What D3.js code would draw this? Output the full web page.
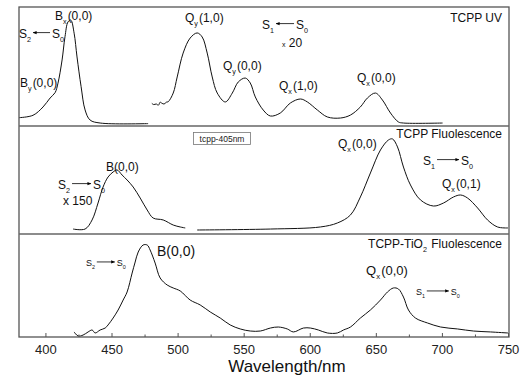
<!DOCTYPE html>
<html>
<head>
<meta charset="utf-8">
<script src="https://cdn.jsdelivr.net/npm/d3@7"></script>
<style>
  body { margin: 0; background: #fff; }
  svg { font-family: "Liberation Sans", Arial, sans-serif; }
</style>
</head>
<body>
<div id="chart"></div>
<script>
const WIDTH = 530;
const HEIGHT = 381;
const PLOT = { LEFT: 19, RIGHT: 508, TOP: 7, BOTTOM: 337 };

// panel edges (px) – top, divider 1, divider 2, bottom
const panelEdges = [7, 126, 234, 337];

const xTicks = [400, 450, 500, 550, 600, 650, 700, 750];
const xMinorTicks = [425, 475, 525, 575, 625, 675, 725];

// [wavelength nm, normalised intensity]
const uvSoret = [[380,0.07],[390.6,0.09],[398.2,0.16],[403.5,0.235],[407.3,0.28],[409.5,0.36],[412.6,0.555],
  [414.8,0.75],[417.1,0.875],[419.2,0.89],[421.7,0.78],[423.9,0.58],[427,0.33],[430,0.135],[433.8,0.05],
  [441.4,0.025],[477.7,0.02]];
const uvQ = [[480.5,0.19],[482,0.18],[483.8,0.185],[485.5,0.175],[486.8,0.2],[488.3,0.19],[489.8,0.185],
  [491.5,0.2],[492.9,0.204],[496.7,0.277],[499.7,0.412],[504.2,0.613],[509.5,0.739],[514.8,0.782],
  [518.6,0.748],[522.4,0.613],[526.2,0.412],[530,0.277],[536.1,0.202],[541.4,0.277],[545.9,0.37],
  [551.2,0.403],[555,0.361],[558.8,0.244],[564.8,0.134],[570.2,0.084],[577.7,0.109],[585.3,0.193],
  [592.9,0.227],[598.2,0.202],[605.8,0.134],[613.3,0.076],[623.2,0.067],[630.8,0.092],[638.3,0.16],
  [643.6,0.235],[649.7,0.277],[655,0.218],[661.1,0.109],[667.1,0.034],[670.9,0.025],[700.5,0.025]];
const flB = [[420.9,0.046],[430,0.046],[435.3,0.13],[439.8,0.287],[443.6,0.435],[447.4,0.528],[451.2,0.574],
  [454.2,0.593],[458,0.546],[461.8,0.5],[466.4,0.435],[471.7,0.333],[477,0.222],[481.5,0.148],[489.1,0.13],
  [496.7,0.083],[502,0.065],[505.8,0.056]];
const flQ = [[514.8,0.037],[570.2,0.046],[608,0.065],[620.9,0.102],[630.8,0.176],[638.3,0.343],[645.9,0.565],
  [653.5,0.778],[659.5,0.87],[662.6,0.88],[666.4,0.806],[670.9,0.62],[676.2,0.454],[683.8,0.315],
  [693.6,0.259],[701.2,0.287],[708.8,0.343],[714.1,0.361],[719.4,0.333],[727,0.241],[734.5,0.13],
  [742.1,0.065],[750,0.056]];
const tioFl = [[421.7,0.049],[424.7,0.01],[428.5,0.019],[432.3,0.049],[435.3,0.068],[437.6,0.039],[441.4,0.068],
  [445.2,0.087],[447.4,0.117],[451.2,0.184],[455,0.262],[458.8,0.359],[461.8,0.437],[465.6,0.621],
  [467.9,0.728],[470.2,0.825],[473.9,0.893],[477,0.893],[479.2,0.845],[483,0.718],[486.8,0.573],
  [492.1,0.505],[496.7,0.476],[502,0.447],[509.5,0.359],[517.1,0.311],[524.7,0.243],[532.3,0.184],
  [539.8,0.117],[547.4,0.078],[555,0.058],[562.6,0.058],[570.2,0.087],[576.2,0.097],[583,0.078],
  [587.6,0.049],[595.2,0.087],[600.5,0.087],[606.5,0.068],[613.3,0.039],[620.9,0.039],[625.5,0.068],
  [630.8,0.097],[638.3,0.184],[645.9,0.262],[653.5,0.359],[658.8,0.437],[663.3,0.476],[667.1,0.466],
  [670.9,0.388],[674.7,0.262],[680,0.184],[689.1,0.136],[699,0.097],[711.8,0.078],[723.9,0.058],
  [736.8,0.049],[750,0.039]];

const panelCurves = [[uvSoret, uvQ], [flB, flQ], [tioFl]];

const svg = d3.select('#chart')
  .append('svg')
    .attr('width', WIDTH)
    .attr('height', HEIGHT);

const defs = svg.append('defs');
defs.append('marker')
    .attr('id', 'head')
    .attr('viewBox', '0 0 10 10')
    .attr('refX', 9).attr('refY', 5)
    .attr('markerWidth', 5).attr('markerHeight', 5)
    .attr('orient', 'auto-start-reverse')
  .append('path')
    .attr('d', 'M0,1 L10,5 L0,9 Z')
    .attr('fill', '#000');

const x = d3.scaleLinear().domain([380, 750]).range([PLOT.LEFT, PLOT.RIGHT]);

// one y scale per panel
const yScales = d3.range(3).map(i =>
  d3.scaleLinear().domain([0, 1]).range([panelEdges[i + 1], panelEdges[i]]));

//draw the spectra
panelCurves.forEach((curves, i) => {
  const line = d3.line()
    .x(d => x(d[0]))
    .y(d => yScales[i](d[1]))
    .curve(d3.curveCatmullRom.alpha(0.5));
  svg.append('g')
    .selectAll('path')
    .data(curves)
    .enter().append('path')
      .attr('d', line)
      .attr('fill', 'none')
      .attr('stroke', '#111')
      .attr('stroke-width', 1);
});

//bottom axis, ticks point inwards
const minor = svg.append('g')
  .attr('transform', `translate(0, ${PLOT.BOTTOM})`)
  .call(d3.axisBottom(x).tickValues(xMinorTicks).tickSize(-2.5));
minor.select('.domain').remove();
minor.selectAll('text').remove();
const major = svg.append('g')
  .attr('transform', `translate(0, ${PLOT.BOTTOM})`)
  .call(d3.axisBottom(x).tickValues(xTicks).tickSize(-4).tickPadding(8).tickFormat(d3.format('d')));
major.select('.domain').remove();
major.selectAll('text')
    .attr('font-size', 13)
    .attr('font-family', '"Liberation Sans", Arial, sans-serif')
    .attr('fill', '#222');
svg.selectAll('.tick line').attr('stroke', '#555');

//frame and dividers
svg.append('rect')
    .attr('x', PLOT.LEFT).attr('y', PLOT.TOP)
    .attr('width', PLOT.RIGHT - PLOT.LEFT + 1)
    .attr('height', PLOT.BOTTOM - PLOT.TOP)
    .attr('fill', 'none')
    .attr('stroke', '#555')
    .attr('stroke-width', 1.3);
svg.selectAll('line.divider')
  .data(panelEdges.slice(1, 3))
  .enter().append('line')
    .attr('class', 'divider')
    .attr('x1', PLOT.LEFT).attr('x2', PLOT.RIGHT + 1)
    .attr('y1', d => d).attr('y2', d => d)
    .attr('stroke', '#666')
    .attr('stroke-width', 1.6);

svg.append('text')
    .attr('x', 287).attr('y', 372)
    .attr('text-anchor', 'middle')
    .attr('font-size', 17)
    .attr('fill', '#111')
    .text('Wavelength/nm');

/** labels **/
// parts: [text, isSubscript]
function rich(px, py, parts, size, anchor) {
  const t = svg.append('text')
    .attr('x', px).attr('y', py)
    .attr('font-size', size)
    .attr('fill', '#111')
    .attr('text-anchor', anchor || 'start');
  parts.forEach(p => {
    if (p[1]) {
      t.append('tspan').attr('dy', size * 0.3).attr('font-size', size * 0.6).text(p[0]);
      t.append('tspan').attr('dy', -size * 0.3).text('\u200a');
    } else {
      t.append('tspan').text(p[0]);
    }
  });
  return t;
}

function trans(px, py, from, to, dir, size, arrowLen) {
  // draws "S_a --> S_b" with arrow pointing right (dir 1) or left (dir -1)
  const a = rich(px, py, [['S'], [from, true]], size);
  const w = a.node().getComputedTextLength();
  const x1 = px + w + 1, x2 = x1 + arrowLen;
  svg.append('line')
      .attr('x1', dir > 0 ? x1 : x2).attr('x2', dir > 0 ? x2 : x1)
      .attr('y1', py - size * 0.45).attr('y2', py - size * 0.45)
      .attr('stroke', '#000').attr('stroke-width', 0.8)
      .attr('marker-end', 'url(#head)');
  rich(x2 + 2, py, [['S'], [to, true]], size);
}

const Q = (s, t) => [['Q'], [s, true], [t]];
const B = (s, t) => [['B'], [s, true], [t]];

// panel 1
rich(55, 20, B('x', '(0,0)'), 12);
rich(20, 87, B('y', '(0,0)'), 12);
trans(19, 38, '2', '0', -1, 12, 17);
rich(185, 22, Q('y', '(1,0)'), 12);
rich(223, 70, Q('y', '(0,0)'), 12);
rich(279, 90, Q('x', '(1,0)'), 12);
rich(357, 82, Q('x', '(0,0)'), 12);
trans(262, 29, '1', '0', -1, 12, 18);
rich(282, 47, [['x', false]], 7).append('tspan').attr('font-size', 12).text(' 20');
rich(502, 22, [['TCPP UV']], 12, 'end');

// panel 2
svg.append('rect')
    .attr('x', 193.5).attr('y', 132.5).attr('width', 57).attr('height', 12)
    .attr('fill', '#fff').attr('stroke', '#777').attr('stroke-width', 0.8);
svg.append('text')
    .attr('x', 222).attr('y', 141.5).attr('text-anchor', 'middle')
    .attr('font-size', 8.5).attr('fill', '#222').text('tcpp-405nm');
rich(502, 138, [['TCPP Fluolescence']], 12, 'end');
rich(338, 148, Q('x', '(0,0)'), 12);
rich(442, 188, Q('x', '(0,1)'), 12);
trans(423, 165, '1', '0', 1, 12, 22);
rich(106, 171, [['B(0,0)']], 12);
trans(58, 189, '2', '0', 1, 12, 19);
rich(63, 205, [['x 150']], 12);

// panel 3
rich(502, 248, [['TCPP-TiO'], ['2', true], [' Fluolescence']], 12, 'end');
rich(157, 256, [['B(0,0)']], 14);
trans(86, 266, '2', '0', 1, 9, 18);
rich(366, 275, Q('x', '(0,0)'), 13);
trans(416, 295, '1', '0', 1, 9, 22);
</script>
</body>
</html>
